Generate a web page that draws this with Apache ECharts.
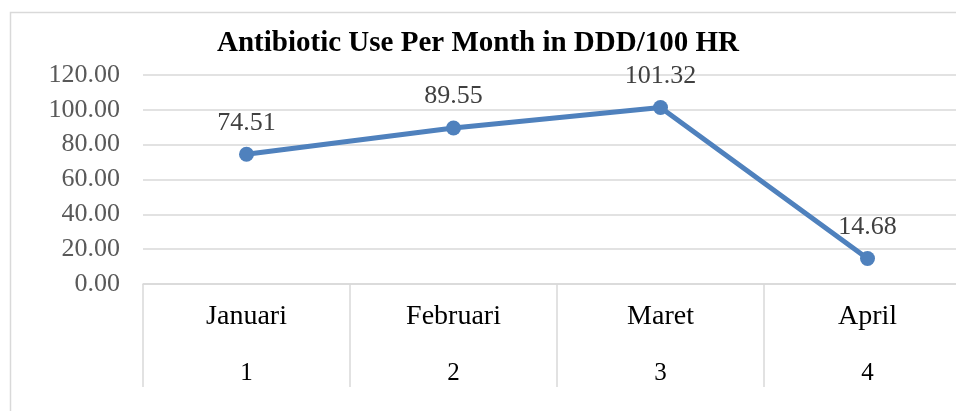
<!DOCTYPE html>
<html>
<head>
<meta charset="utf-8">
<script src="https://cdn.jsdelivr.net/npm/echarts@6/dist/echarts.min.js"></script>
<style>
    html, body { margin: 0; padding: 0; background: #fff; }
    #chart { width: 956px; height: 411px; }
</style>
</head>
<body>
<div id="chart"></div>
<script>
// 数据
var months = ['Januari', 'Februari', 'Maret', 'April'];
var monthNumbers = ['1', '2', '3', '4'];
var dddValues = [74.51, 89.55, 101.32, 14.68];
var yTicks = { min: 0, max: 120, interval: 20 };

var chart = echarts.init(document.getElementById('chart'));
chart.setOption({
    animation: false,
    title: {
        text: 'Antibiotic Use Per Month in DDD/100 HR',
        left: 'center',
        top: 24,
        textStyle: {
            fontFamily: 'Liberation Serif',
            fontWeight: 'bold',
            fontSize: 29,
            color: '#000'
        }
    },
    // 外框 (只看到左边和上边)
    graphic: [{
        type: 'polyline',
        shape: { points: [[10.5, 411], [10.5, 12.5], [956, 12.5]] },
        style: { fill: null, stroke: '#d9d9d9', lineWidth: 1.5 },
        silent: true
    }],
    grid: {
        left: 143,
        top: 75,
        width: 828,
        height: 209,
        outerBoundsMode: 'none'
    },
    xAxis: [{
        type: 'category',
        data: months,
        boundaryGap: true,
        axisLine: { lineStyle: { color: '#d9d9d9', width: 1.5 } },
        axisTick: {
            show: true,
            interval: 0,
            length: 103,
            lineStyle: { color: '#d9d9d9', width: 1.5 }
        },
        axisLabel: {
            interval: 0,
            margin: 19,
            fontFamily: 'Liberation Serif',
            fontSize: 28,
            color: '#000'
        }
    }, {
        // 第二层分类标签
        type: 'category',
        data: monthNumbers,
        position: 'bottom',
        boundaryGap: true,
        axisLine: { show: false },
        axisTick: { show: false },
        axisLabel: {
            interval: 0,
            margin: 77,
            fontFamily: 'Liberation Serif',
            fontSize: 25,
            color: '#000'
        }
    }],
    yAxis: {
        type: 'value',
        min: yTicks.min,
        max: yTicks.max,
        interval: yTicks.interval,
        axisLine: { show: false },
        axisTick: { show: false },
        splitLine: { lineStyle: { color: '#d9d9d9', width: 1.5 } },
        axisLabel: {
            margin: 23,
            fontFamily: 'Liberation Serif',
            fontSize: 26,
            color: '#595959',
            formatter: function (v) {
                return v.toFixed(2);
            }
        }
    },
    series: [{
        type: 'line',
        data: dddValues,
        symbol: 'circle',
        symbolSize: 15,
        lineStyle: { color: '#4f81bd', width: 5 },
        itemStyle: { color: '#4f81bd' },
        label: {
            show: true,
            position: 'top',
            distance: 11,
            fontFamily: 'Liberation Serif',
            fontSize: 26,
            color: '#404040',
            formatter: function (p) {
                return p.value.toFixed(2);
            }
        }
    }]
});
</script>
</body>
</html>
